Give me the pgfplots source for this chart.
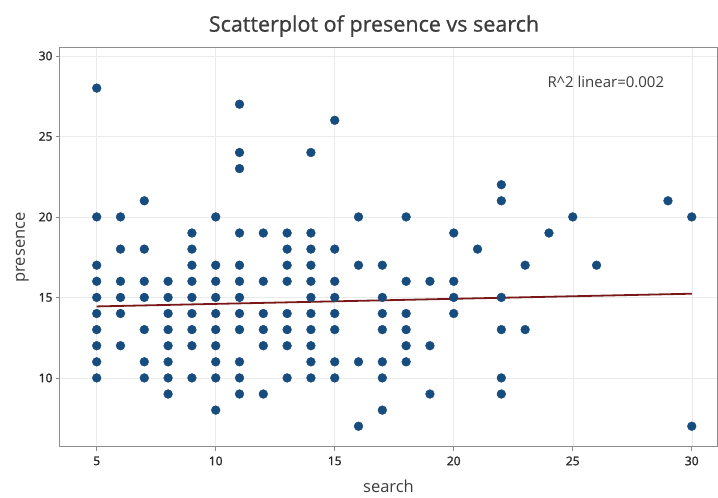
\documentclass[border=0pt]{standalone}
\usepackage{fontspec}
\setmainfont{Open Sans}
\newfontfamily\semib[FakeBold=0.8]{Open Sans}
\newfontfamily\tickfont[FakeBold=1.6]{Open Sans}
\usepackage{pgfplots}
\pgfplotsset{compat=1.18}
\definecolor{dotblue}{RGB}{22,76,126}
\definecolor{fitred}{RGB}{120,24,24}
\definecolor{txtgray}{RGB}{60,60,60}
\definecolor{framegray}{RGB}{140,140,140}

\begin{document}
\begin{tikzpicture}[x=1pt,y=1pt]
\useasboundingbox (0,0) rectangle (718,498);
\node[font=\fontsize{21.5}{24}\semib, text=txtgray] at (374,472) {Scatterplot of presence vs search};
\begin{axis}[
  at={(60pt,51pt)}, anchor=south west,
  scale only axis, width=657pt, height=399pt,
  xmin=3.458, xmax=31.06, ymin=5.71, ymax=30.49,
  xtick={5,10,15,20,25,30}, ytick={10,15,20,25,30},
  tick align=outside, tick pos=left,
  major tick length=4pt,
  tick style={framegray, line width=0.6pt},
  axis line style={framegray, line width=1pt},
  grid=major, grid style={line width=0.5pt, black!8},
  tick label style={font=\fontsize{12}{14}\tickfont, text=black!85},
  xticklabel style={yshift=-2pt},
  /pgf/number format/assume math mode=true,
  xlabel={search}, ylabel={presence},
  label style={font=\fontsize{16.5}{19}\selectfont, text=txtgray},
  xlabel style={yshift=-8pt},
  ylabel style={yshift=3pt},
]
% fitted line
\addplot[fitred, line width=1.8pt] coordinates {(5,14.44) (30,15.23)};
% observations
\addplot[only marks, mark=*, mark size=4.4pt, color=dotblue] table {
x y
5 28
5 20
5 17
5 16
5 15
5 14
5 13
5 12
5 11
5 10
6 20
6 18
6 16
6 15
6 14
6 12
7 21
7 18
7 16
7 15
7 13
7 11
7 10
8 16
8 15
8 14
8 13
8 12
8 11
8 10
8 9
9 19
9 18
9 17
9 16
9 15
9 14
9 13
9 12
9 10
10 20
10 17
10 16
10 15
10 14
10 13
10 12
10 11
10 10
10 8
11 27
11 24
11 23
11 19
11 17
11 16
11 15
11 14
11 13
11 11
11 10
11 9
12 19
12 16
12 14
12 13
12 12
12 9
13 19
13 18
13 17
13 16
13 14
13 13
13 12
13 10
14 24
14 19
14 18
14 17
14 16
14 15
14 14
14 13
14 12
14 11
14 10
15 26
15 18
15 16
15 15
15 14
15 13
15 11
15 10
16 20
16 17
16 11
16 7
17 17
17 15
17 14
17 13
17 11
17 10
17 8
18 20
18 16
18 14
18 13
18 12
18 11
19 16
19 12
19 9
20 19
20 16
20 15
20 14
21 18
22 22
22 21
22 15
22 13
22 10
22 9
23 17
23 13
24 19
25 20
26 17
29 21
30 20
30 7
};
\node[anchor=west, font=\fontsize{15}{17}\selectfont, text=txtgray] at (axis cs:23.8,28.38) {R\^{}2 linear=0.002};
\end{axis}
\end{tikzpicture}
\end{document}
